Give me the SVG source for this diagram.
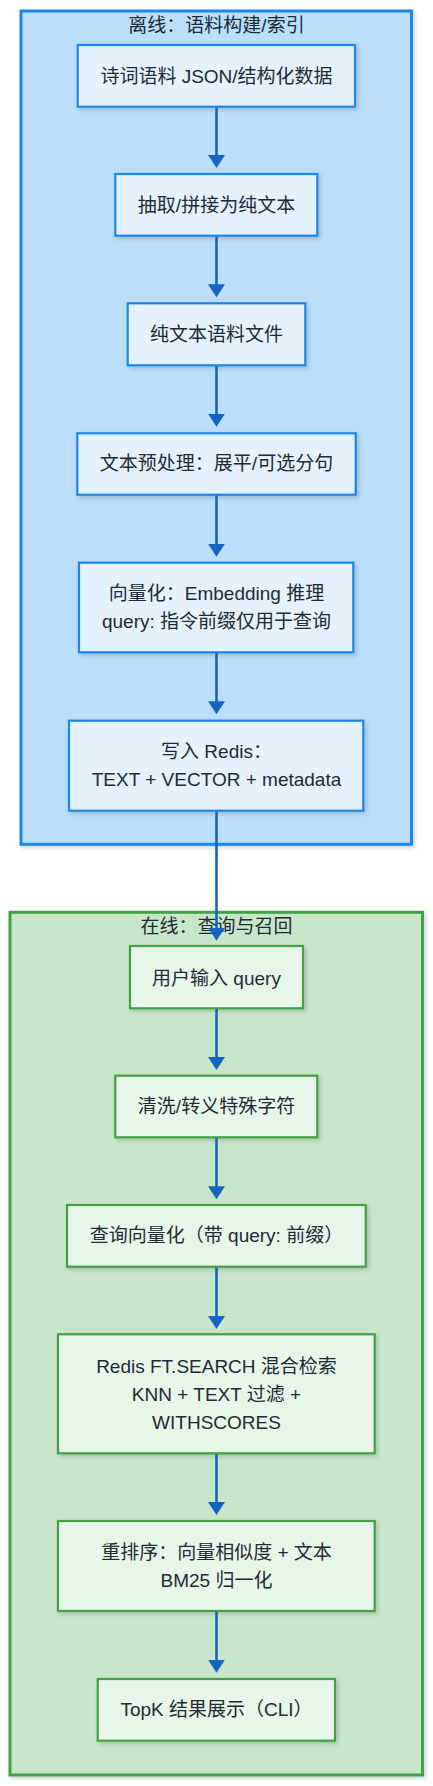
<svg xmlns="http://www.w3.org/2000/svg" width="433" height="1786" viewBox="0 0 433 1786">
<defs>
<filter id="sh" x="-10%" y="-10%" width="120%" height="130%">
<feDropShadow dx="2" dy="2" stdDeviation="2" flood-color="#000" flood-opacity="0.18"/>
</filter>
<marker id="arr" viewBox="0 0 13 17" markerWidth="13" markerHeight="17" refX="10" refY="8.5" orient="auto" markerUnits="userSpaceOnUse">
<path d="M0,0 L13,8.5 L0,17 z" fill="#1565c0"/>
</marker>
<style>
.cb{fill:#bbdefb;stroke:#1e88e5;stroke-width:3;filter:url(#sh)}
.cg{fill:#c8e6c9;stroke:#43a047;stroke-width:3;filter:url(#sh)}
.nb{fill:#e3f2fd;stroke:#1e88e5;stroke-width:2.2;filter:url(#sh)}
.ng{fill:#e8f5e9;stroke:#43a047;stroke-width:2.2;filter:url(#sh)}
text{font-family:"Liberation Sans","Noto Sans CJK SC",sans-serif;font-size:19px;fill:#212b36;text-anchor:middle;dominant-baseline:central}
.e{fill:none;stroke:#1565c0;stroke-width:2.6;marker-end:url(#arr)}
</style>
</defs>
<g id="cluster-offline">
<rect class="cb" x="21" y="11" width="390.5" height="833.3"/>
<text x="216.5" y="25.5">离线：语料构建/索引</text>
</g>
<g id="cluster-online">
<rect class="cg" x="10" y="912.3" width="412.5" height="862.7"/>
<text x="216.5" y="926.7">在线：查询与召回</text>
</g>
<g id="n1"><rect class="nb" x="77.7" y="45" width="277.3" height="61.7"/><text x="216.5" y="76">诗词语料 JSON/结构化数据</text></g>
<g id="n2"><rect class="nb" x="115.3" y="174" width="202" height="61.7"/><text x="216.5" y="205.5">抽取/拼接为纯文本</text></g>
<g id="n3"><rect class="nb" x="127.7" y="303.3" width="177.6" height="62"/><text x="216.5" y="334">纯文本语料文件</text></g>
<g id="n4"><rect class="nb" x="77.3" y="433.3" width="278.4" height="61.4"/><text x="216.5" y="463.5">文本预处理：展平/可选分句</text></g>
<g id="n5"><rect class="nb" x="79" y="562.7" width="274.3" height="89.6"/><text x="216.5" y="593.5">向量化：Embedding 推理</text><text x="216.5" y="621.5">query: 指令前缀仅用于查询</text></g>
<g id="n6"><rect class="nb" x="69" y="720.7" width="294.3" height="90"/><text x="216.5" y="751.7">写入 Redis：</text><text x="216.5" y="779.7">TEXT + VECTOR + metadata</text></g>
<g id="n7"><rect class="ng" x="130" y="946" width="173" height="62.3"/><text x="216.5" y="978">用户输入 query</text></g>
<g id="n8"><rect class="ng" x="115.3" y="1075.7" width="202" height="61.6"/><text x="216.5" y="1106.5">清洗/转义特殊字符</text></g>
<g id="n9"><rect class="ng" x="67" y="1205" width="298.7" height="61.7"/><text x="216.5" y="1235">查询向量化（带 query: 前缀）</text></g>
<g id="n10"><rect class="ng" x="58" y="1334.3" width="316.7" height="119"/><text x="216.5" y="1366">Redis FT.SEARCH 混合检索</text><text x="216.5" y="1394">KNN + TEXT 过滤 +</text><text x="216.5" y="1422">WITHSCORES</text></g>
<g id="n11"><rect class="ng" x="58" y="1521" width="316.7" height="90"/><text x="216.5" y="1552">重排序：向量相似度 + 文本</text><text x="216.5" y="1580">BM25 归一化</text></g>
<g id="n12"><rect class="ng" x="97.7" y="1679" width="237.3" height="61.7"/><text x="216.5" y="1709.5">TopK 结果展示（CLI）</text></g>
<g id="edges">
<line class="e" x1="216.5" y1="107.5" x2="216.5" y2="165"/>
<line class="e" x1="216.5" y1="236.5" x2="216.5" y2="294.3"/>
<line class="e" x1="216.5" y1="366" x2="216.5" y2="423.7"/>
<line class="e" x1="216.5" y1="495.5" x2="216.5" y2="553.7"/>
<line class="e" x1="216.5" y1="653" x2="216.5" y2="711.3"/>
<line class="e" x1="216.5" y1="811.5" x2="216.5" y2="937.7"/>
<line class="e" x1="216.5" y1="1009" x2="216.5" y2="1067"/>
<line class="e" x1="216.5" y1="1138" x2="216.5" y2="1196.3"/>
<line class="e" x1="216.5" y1="1267.5" x2="216.5" y2="1326"/>
<line class="e" x1="216.5" y1="1454" x2="216.5" y2="1512"/>
<line class="e" x1="216.5" y1="1611.8" x2="216.5" y2="1669.7"/>
</g>
</svg>
